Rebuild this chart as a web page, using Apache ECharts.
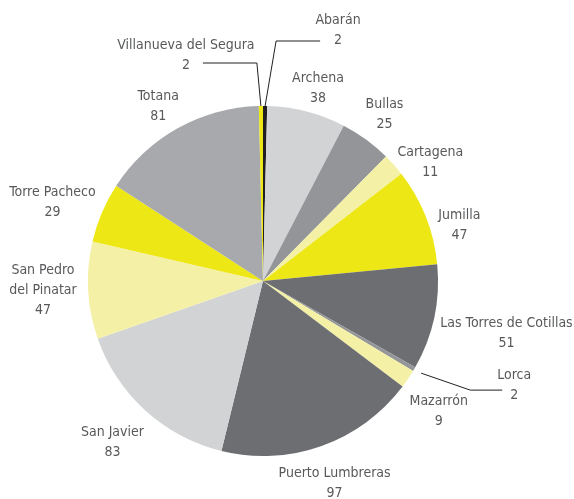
<!DOCTYPE html>
<html>
<head>
<meta charset="utf-8">
<script src="https://cdn.jsdelivr.net/npm/echarts@6/dist/echarts.min.js"></script>
<style>
  html, body { margin: 0; background: #fff; }
  #chart { width: 574px; height: 499px; }
</style>
</head>
<body>
<div id="chart"></div>
<script>
const municipios = ['Abarán', 'Archena', 'Bullas', 'Cartagena', 'Jumilla', 'Las Torres de Cotillas', 'Lorca',
  'Mazarrón', 'Puerto Lumbreras', 'San Javier', 'San Pedro del Pinatar', 'Torre Pacheco', 'Totana', 'Villanueva del Segura']
const valores = [2, 38, 25, 11, 47, 51, 2, 9, 97, 83, 47, 29, 81, 2]
const colores = ['#231f20', '#d1d3d4', '#939598', '#f4f1a6', '#ede716', '#6d6e71', '#939598',
  '#f4f1a6', '#6d6e71', '#d1d3d4', '#f4f1a6', '#ede716', '#a7a9ac', '#ede716']

const cx = 263, cy = 281, radio = 175
const total = valores.reduce((a, b) => a + b, 0)
// mid angle of every slice, clockwise from the top
const medio = []
let acc = 0
valores.forEach(v => { medio.push((acc + v / 2) / total * 2 * Math.PI); acc += v })

// small slices with a leader line: elbow, end of line and label centre, relative to the edge point
const guias = {
  0: [11, -65, 55, -65, 73, -76],
  6: [56, 21, 88, 21, 100, 16],
  13: [-4, -43, -58, -43, -75, -51]
}
// little shifts of the outside labels
const ajustes = {
  1: [4, 6], 3: [5, 25], 4: [5, 20], 5: [1, 1], 7: [-2, 10], 8: [-1, -2],
  9: [-6, 2], 10: [-6, -2], 11: [-2, 10], 12: [-4, 6]
}

const myChart = echarts.init(document.getElementById('chart'))
const option = {
  animation: false,
  series: [{
    type: 'pie',
    center: [cx, cy],
    radius: radio,
    startAngle: 90,
    clockwise: true,
    avoidLabelOverlap: false,
    data: municipios.map((m, i) => ({
      name: m,
      value: valores[i],
      itemStyle: { color: colores[i] },
      labelLine: { show: guias[i] !== undefined }
    })),
    label: {
      position: 'outside',
      formatter: p => p.name.replace('Pedro ', 'Pedro\n') + '\n' + p.value,
      color: '#58595b',
      fontFamily: '"Liberation Sans Narrow", "DejaVu Sans Condensed", sans-serif',
      fontSize: 14,
      lineHeight: 20,
      align: 'center',
      overflow: 'none'
    },
    labelLine: {
      show: false,
      lineStyle: { color: '#231f20', width: 1 }
    },
    labelLayout: function (p) {
      const a = medio[p.dataIndex]
      const s = Math.sin(a), c = Math.cos(a)
      const g = guias[p.dataIndex]
      if (g) {
        const ex = cx + radio * s, ey = cy - radio * c
        const sx = cx + (radio + 8) * s, sy = cy - (radio + 8) * c
        const inicio = p.dataIndex === 6 ? [sx, sy] : [ex, ey]
        return {
          x: ex + g[4], y: ey + g[5], align: 'center', verticalAlign: 'middle',
          labelLinePoints: [inicio, [ex + g[0], ey + g[1]], [ex + g[2], ey + g[3]]]
        }
      }
      const w = p.labelRect.width / 2, h = p.labelRect.height / 2
      const d = radio + 4 + w * Math.abs(s) + h * Math.abs(c)
      const n = ajustes[p.dataIndex] || [0, 0]
      return { x: cx + d * s + n[0], y: cy - d * c + n[1], align: 'center', verticalAlign: 'middle' }
    }
  }]
}
myChart.setOption(option)
</script>
</body>
</html>
